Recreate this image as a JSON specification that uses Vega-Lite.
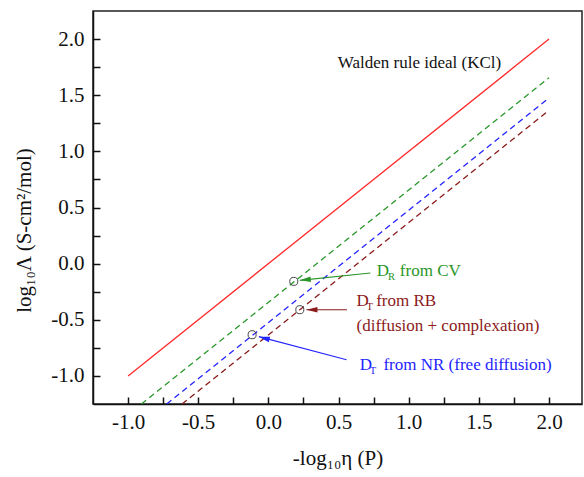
{
  "$schema": "https://vega.github.io/schema/vega-lite/v6.json",
  "width": 489,
  "height": 393,
  "autosize": {"type": "none"},
  "padding": {"left": 93, "top": 11, "right": 2, "bottom": 73},
  "background": "white",
  "config": {
    "view": {"stroke": "#222", "strokeWidth": 1.5},
    "font": "Liberation Serif",
    "axis": {
      "grid": false,
      "ticks": true,
      "zindex": 1,
      "domainColor": "#111",
      "domainWidth": 1.5,
      "tickColor": "#111",
      "tickWidth": 1.5,
      "tickSize": -7,
      "labelFont": "Liberation Serif",
      "labelFontSize": 21,
      "labelColor": "#111",
      "titleFont": "Liberation Serif",
      "titleFontSize": 21,
      "titleFontWeight": "normal",
      "titleColor": "#111"
    }
  },
  "datasets": {
    "lines": [
      {"series": "Walden", "x": -1, "y": -1},
      {"series": "Walden", "x": 2, "y": 2},
      {"series": "CV", "x": -0.905, "y": -1.25},
      {"series": "CV", "x": 2, "y": 1.655},
      {"series": "NR", "x": -0.725, "y": -1.25},
      {"series": "NR", "x": 2, "y": 1.475},
      {"series": "RB", "x": -0.615, "y": -1.25},
      {"series": "RB", "x": 2, "y": 1.365}
    ],
    "markers": [
      {"series": "CV", "x": 0.181, "y": -0.158},
      {"series": "RB", "x": 0.224, "y": -0.41},
      {"series": "NR", "x": -0.116, "y": -0.633}
    ],
    "arrows": [
      {"series": "CV", "x": 0.727, "y": -0.083, "x2": 0.224, "y2": -0.149},
      {"series": "RB", "x": 0.56, "y": -0.41, "x2": 0.271, "y2": -0.41},
      {"series": "NR", "x": 0.557, "y": -0.856, "x2": -0.068, "y2": -0.65}
    ],
    "labels": [
      {"series": "Walden", "role": "main", "text": "Walden rule ideal (KCl)", "x": 0.495, "y": 1.744},
      {"series": "CV", "role": "main", "text": "D", "x": 0.773, "y": -0.113},
      {"series": "CV", "role": "sub", "text": "R", "x": 0.853, "y": -0.149},
      {"series": "CV", "role": "main", "text": "from CV", "x": 0.937, "y": -0.113},
      {"series": "RB", "role": "main", "text": "D", "x": 0.628, "y": -0.38},
      {"series": "RB", "role": "sub", "text": "T", "x": 0.7, "y": -0.416},
      {"series": "RB", "role": "main", "text": "from RB", "x": 0.768, "y": -0.38},
      {"series": "RB", "role": "main", "text": "(diffusion + complexation)", "x": 0.628, "y": -0.603},
      {"series": "NR", "role": "main", "text": "D", "x": 0.651, "y": -0.945},
      {"series": "NR", "role": "sub", "text": "T", "x": 0.723, "y": -0.981},
      {"series": "NR", "role": "main", "text": "from NR (free diffusion)", "x": 0.82, "y": -0.945}
    ]
  },
  "encoding": {
    "x": {
      "field": "x",
      "type": "quantitative",
      "scale": {"domain": [-1.25, 2.235], "nice": false, "zero": false},
      "axis": {
        "title": "-log₁₀η  (P)",
        "values": [-1, -0.75, -0.5, -0.25, 0, 0.25, 0.5, 0.75, 1, 1.25, 1.5, 1.75, 2],
        "labelExpr": "datum.value % 0.5 == 0 ? replace(format(datum.value, '.1f'), '\u2212', '-') : ''",
        "encode": {"ticks": {"update": {"y2": {"signal": "datum.value % 0.5 == 0 ? -8 : -5"}}}},
        "labelPadding": 14,
        "titlePadding": 15
      }
    },
    "y": {
      "field": "y",
      "type": "quantitative",
      "scale": {"domain": [-1.25, 2.25], "nice": false, "zero": false},
      "axis": {
        "title": "log₁₀Λ  (S-cm²/mol)",
        "values": [-1, -0.75, -0.5, -0.25, 0, 0.25, 0.5, 0.75, 1, 1.25, 1.5, 1.75, 2],
        "labelExpr": "datum.value % 0.5 == 0 ? replace(format(datum.value, '.1f'), '\u2212', '-') : ''",
        "encode": {"ticks": {"update": {"x2": {"signal": "datum.value % 0.5 == 0 ? 8 : 5"}}}},
        "labelPadding": 16,
        "titlePadding": 16,
        "titleY": 219
      }
    }
  },
  "layer": [
    {
      "data": {"name": "lines"},
      "transform": [{"filter": "datum.series == 'Walden'"}],
      "mark": {"type": "line", "color": "#ff2a2a", "strokeWidth": 1.3},
      "encoding": {"detail": {"field": "series"}}
    },
    {
      "data": {"name": "lines"},
      "transform": [{"filter": "datum.series != 'Walden'"}],
      "mark": {"type": "line", "strokeWidth": 1.3, "strokeDash": [6, 4]},
      "encoding": {
        "color": {"field": "series", "type": "nominal", "legend": null,
          "scale": {"domain": ["CV", "NR", "RB"], "range": ["#2a962a", "#2424ff", "#8b1a1a"]}}
      }
    },
    {
      "data": {"name": "markers"},
      "mark": {"type": "point", "shape": "circle", "filled": false, "stroke": "#444", "strokeWidth": 1, "size": 65, "opacity": 1}
    },
    {
      "data": {"name": "arrows"},
      "mark": {"type": "rule", "strokeWidth": 1.1},
      "encoding": {
        "x2": {"field": "x2"},
        "y2": {"field": "y2"},
        "color": {"field": "series", "type": "nominal", "legend": null,
          "scale": {"domain": ["CV", "NR", "RB"], "range": ["#2a962a", "#2424ff", "#8b1a1a"]}}
      }
    },
    {
      "data": {"name": "arrows"},
      "transform": [{"filter": "datum.series == 'CV'"}],
      "mark": {"type": "point", "shape": "M0,0L0.55,2.2L-0.55,2.2Z", "filled": true, "size": 100, "angle": 264, "color": "#2a962a", "opacity": 1},
      "encoding": {"x": {"field": "x2", "type": "quantitative"}, "y": {"field": "y2", "type": "quantitative"}}
    },
    {
      "data": {"name": "arrows"},
      "transform": [{"filter": "datum.series == 'RB'"}],
      "mark": {"type": "point", "shape": "M0,0L0.55,2.2L-0.55,2.2Z", "filled": true, "size": 100, "angle": 270, "color": "#8b1a1a", "opacity": 1},
      "encoding": {"x": {"field": "x2", "type": "quantitative"}, "y": {"field": "y2", "type": "quantitative"}}
    },
    {
      "data": {"name": "arrows"},
      "transform": [{"filter": "datum.series == 'NR'"}],
      "mark": {"type": "point", "shape": "M0,0L0.55,2.2L-0.55,2.2Z", "filled": true, "size": 100, "angle": 285, "color": "#2424ff", "opacity": 1},
      "encoding": {"x": {"field": "x2", "type": "quantitative"}, "y": {"field": "y2", "type": "quantitative"}}
    },
    {
      "data": {"name": "labels"},
      "transform": [{"filter": "datum.series == 'Walden'"}],
      "mark": {"type": "text", "align": "left", "baseline": "alphabetic", "fontSize": 17, "color": "#111"},
      "encoding": {"text": {"field": "text"}}
    },
    {
      "data": {"name": "labels"},
      "transform": [{"filter": "datum.series != 'Walden' && datum.role == 'main'"}],
      "mark": {"type": "text", "align": "left", "baseline": "alphabetic", "fontSize": 17},
      "encoding": {
        "text": {"field": "text"},
        "color": {"field": "series", "type": "nominal", "legend": null,
          "scale": {"domain": ["CV", "NR", "RB"], "range": ["#2a962a", "#2424ff", "#8b1a1a"]}}
      }
    },
    {
      "data": {"name": "labels"},
      "transform": [{"filter": "datum.role == 'sub'"}],
      "mark": {"type": "text", "align": "left", "baseline": "alphabetic", "fontSize": 10.5},
      "encoding": {
        "text": {"field": "text"},
        "color": {"field": "series", "type": "nominal", "legend": null,
          "scale": {"domain": ["CV", "NR", "RB"], "range": ["#2a962a", "#2424ff", "#8b1a1a"]}}
      }
    }
  ]
}
